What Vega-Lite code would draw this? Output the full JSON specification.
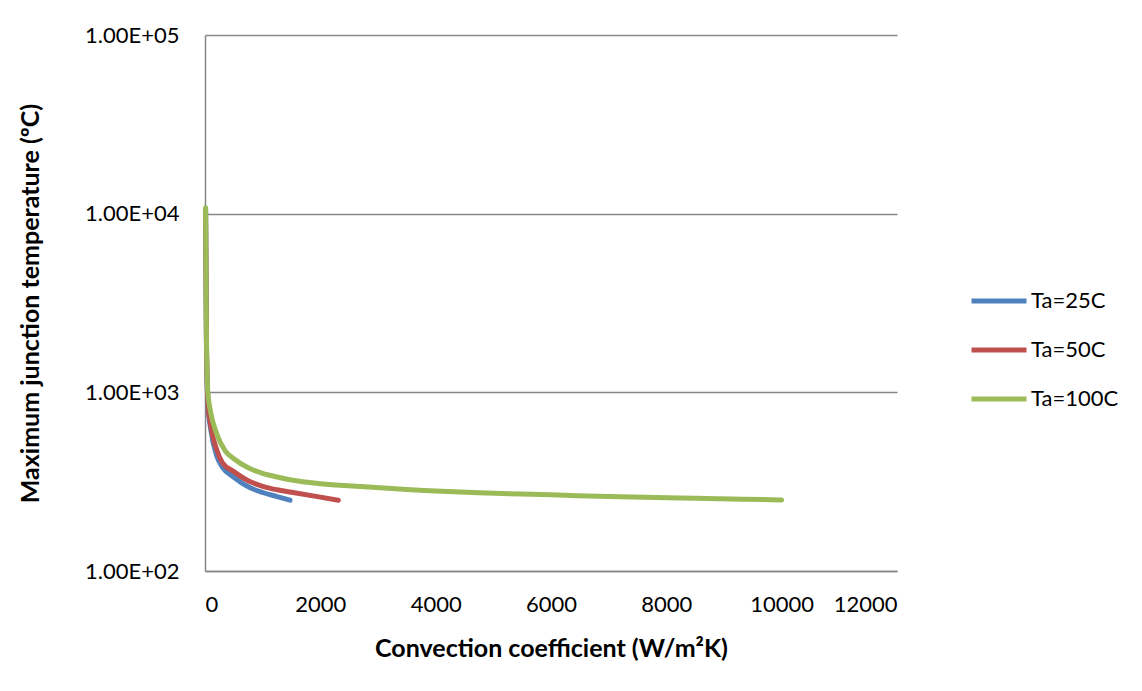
{
  "$schema": "https://vega.github.io/schema/vega-lite/v6.json",
  "autosize": "none",
  "width": 692,
  "height": 536,
  "padding": {"left": 205, "top": 35, "right": 245, "bottom": 120},
  "background": "white",
  "config": {
    "view": {"stroke": null},
    "font": "Lato",
    "axis": {"labelFont": "Lato", "titleFont": "Lato", "labelColor": "#000", "titleColor": "#000"}
  },
  "data": {
    "values": [
      {"h": 10, "T": 10600, "s": "Ta=25C"},
      {"h": 25, "T": 1850, "s": "Ta=25C"},
      {"h": 50, "T": 850, "s": "Ta=25C"},
      {"h": 100, "T": 620, "s": "Ta=25C"},
      {"h": 200, "T": 445, "s": "Ta=25C"},
      {"h": 300, "T": 382, "s": "Ta=25C"},
      {"h": 500, "T": 335, "s": "Ta=25C"},
      {"h": 750, "T": 296, "s": "Ta=25C"},
      {"h": 1000, "T": 275, "s": "Ta=25C"},
      {"h": 1250, "T": 261, "s": "Ta=25C"},
      {"h": 1474, "T": 249, "s": "Ta=25C"},
      {"h": 10, "T": 10700, "s": "Ta=50C"},
      {"h": 25, "T": 1900, "s": "Ta=50C"},
      {"h": 50, "T": 900, "s": "Ta=50C"},
      {"h": 100, "T": 650, "s": "Ta=50C"},
      {"h": 200, "T": 480, "s": "Ta=50C"},
      {"h": 300, "T": 405, "s": "Ta=50C"},
      {"h": 500, "T": 360, "s": "Ta=50C"},
      {"h": 750, "T": 320, "s": "Ta=50C"},
      {"h": 1000, "T": 298, "s": "Ta=50C"},
      {"h": 1250, "T": 285, "s": "Ta=50C"},
      {"h": 1500, "T": 276, "s": "Ta=50C"},
      {"h": 2000, "T": 259, "s": "Ta=50C"},
      {"h": 2312, "T": 249, "s": "Ta=50C"},
      {"h": 10, "T": 10800, "s": "Ta=100C"},
      {"h": 25, "T": 2000, "s": "Ta=100C"},
      {"h": 50, "T": 1000, "s": "Ta=100C"},
      {"h": 100, "T": 770, "s": "Ta=100C"},
      {"h": 200, "T": 590, "s": "Ta=100C"},
      {"h": 350, "T": 470, "s": "Ta=100C"},
      {"h": 500, "T": 425, "s": "Ta=100C"},
      {"h": 750, "T": 378, "s": "Ta=100C"},
      {"h": 1000, "T": 352, "s": "Ta=100C"},
      {"h": 1250, "T": 336, "s": "Ta=100C"},
      {"h": 1500, "T": 323, "s": "Ta=100C"},
      {"h": 2000, "T": 308, "s": "Ta=100C"},
      {"h": 2700, "T": 297, "s": "Ta=100C"},
      {"h": 3500, "T": 286, "s": "Ta=100C"},
      {"h": 4750, "T": 274, "s": "Ta=100C"},
      {"h": 6000, "T": 267, "s": "Ta=100C"},
      {"h": 7000, "T": 261, "s": "Ta=100C"},
      {"h": 8500, "T": 255, "s": "Ta=100C"},
      {"h": 10000, "T": 250, "s": "Ta=100C"}
    ]
  },
  "mark": {"type": "line", "strokeWidth": 5, "strokeCap": "round", "strokeJoin": "round", "interpolate": "monotone"},
  "encoding": {
    "x": {
      "field": "h", "type": "quantitative",
      "scale": {"domain": [0, 12000], "nice": false},
      "axis": {
        "values": [0, 2000, 4000, 6000, 8000, 10000, 12000],
        "labelExpr": "'' + datum.value",
        "grid": false, "ticks": false,
        "domainColor": "#868686", "domainWidth": 1.5,
        "labelFontSize": 22, "labelPadding": 23,
        "title": "Convection coefficient (W/m²K)",
        "titleFontSize": 25, "titleFontWeight": "bold",
        "titlePadding": 21
      }
    },
    "y": {
      "field": "T", "type": "quantitative",
      "scale": {"type": "log", "domain": [100, 100000], "nice": false},
      "axis": {
        "values": [100, 1000, 10000, 100000],
        "labelExpr": "'1.00E+0' + round(log(datum.value)/LN10)",
        "grid": true, "gridColor": "#868686", "gridWidth": 1.5,
        "ticks": false,
        "domainColor": "#868686", "domainWidth": 1.5,
        "labelFontSize": 22, "labelPadding": 26,
        "title": "Maximum junction temperature (ºC)",
        "titleFontSize": 25, "titleFontWeight": "bold",
        "titleX": -175, "titleY": 268, "titleAlign": "center", "titleBaseline": "middle", "titleAngle": -90
      }
    },
    "color": {
      "field": "s", "type": "nominal",
      "scale": {"domain": ["Ta=25C", "Ta=50C", "Ta=100C"], "range": ["#4F81BD", "#C0504D", "#9BBB59"]},
      "legend": {
        "title": null,
        "orient": "none",
        "legendX": 764,
        "legendY": 236,
        "symbolType": "stroke",
        "symbolSize": 3025,
        "symbolStrokeWidth": 5,
        "labelFontSize": 22,
        "labelFont": "Lato",
        "labelColor": "#000",
        "labelOffset": 2,
        "rowPadding": 8
      }
    }
  }
}
